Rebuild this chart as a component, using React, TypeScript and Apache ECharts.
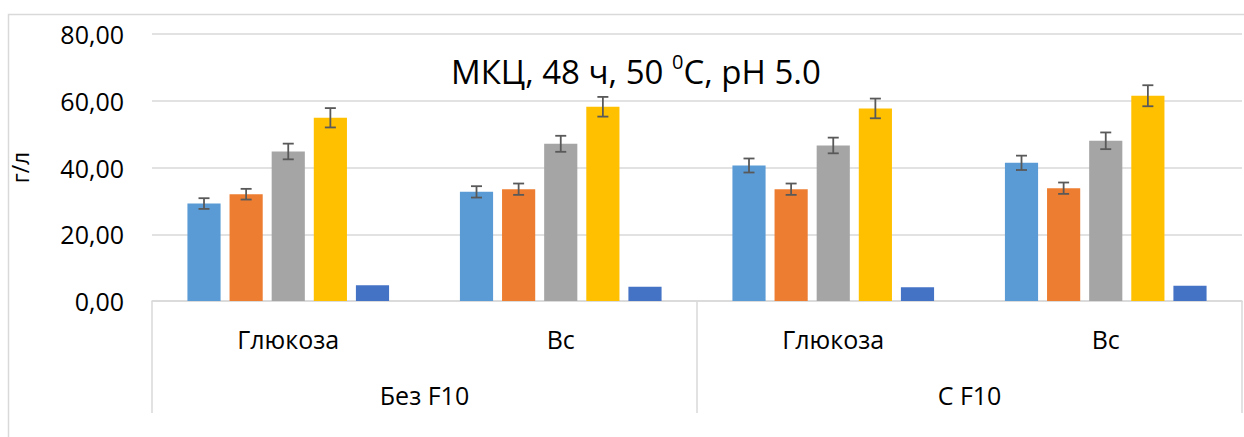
import React, { useEffect, useRef } from "react";
import * as echarts from "echarts";

// Inner category level (substrate) and outer level (enzyme additive)
const categories = ["Глюкоза", "Вс", "Глюкоза", "Вс"];
const groups = ["Без F10", "С F10"];

const seriesNames = ["Ряд1", "Ряд2", "Ряд3", "Ряд4", "Ряд5"];
const colors = ["#5B9BD5", "#ED7D31", "#A5A5A5", "#FFC000", "#4472C4"];

// Concentrations, g/L
const s1 = [29.2, 32.7, 40.6, 41.4];
const s2 = [32.0, 33.5, 33.5, 33.8];
const s3 = [44.8, 47.1, 46.6, 48.0];
const s4 = [54.9, 58.2, 57.7, 61.5];
const s5 = [4.7, 4.3, 4.1, 4.6];

// Standard deviations (the fifth series has none)
const e1 = [1.6, 1.7, 2.1, 2.15];
const e2 = [1.6, 1.7, 1.7, 1.7];
const e3 = [2.35, 2.4, 2.35, 2.5];
const e4 = [2.9, 2.95, 2.95, 3.15];

const yMin = 0;
const yMax = 80;
const yStep = 20;

const values = [s1, s2, s3, s4, s5];
const errors = [e1, e2, e3, e4];

const CAT_GAP = 0.26;
const BAR_GAP = 0.27;
const FONT = "'Open Sans', 'Noto Sans', sans-serif";
const GRID_COLOR = "#D9D9D9";

export default function App() {
  const ref = useRef<HTMLDivElement>(null);

  useEffect(() => {
    if (!ref.current) return;
    const chart = echarts.init(ref.current, undefined, { renderer: "svg" });
    const n = values.length;

    const barSeries = values.map((vals, k) => ({
      name: seriesNames[k],
      type: "bar",
      xAxisIndex: 0,
      yAxisIndex: 0,
      data: vals,
      barCategoryGap: `${CAT_GAP * 100}%`,
      barGap: `${BAR_GAP * 100}%`,
      itemStyle: { color: colors[k] },
      z: 2,
    }));

    const errSeries = errors.map((errs, k) => ({
      name: seriesNames[k] + " err",
      type: "custom",
      xAxisIndex: 0,
      yAxisIndex: 0,
      z: 5,
      silent: true,
      data: errs.map((e, i) => [i, values[k][i], e]),
      encode: { x: 0, y: 1 },
      renderItem: (params: any, api: any) => {
        const cat = api.value(0);
        const v = api.value(1);
        const e = api.value(2);
        const center = api.coord([cat, v]);
        const catW = api.size([1, 0])[0];
        const barW = (catW * (1 - CAT_GAP)) / (n + (n - 1) * BAR_GAP);
        const step = barW * (1 + BAR_GAP);
        const x = center[0] + (k - (n - 1) / 2) * step;
        const yTop = api.coord([cat, v + e])[1];
        const yBot = api.coord([cat, v - e])[1];
        const cap = 5.5;
        const style = { stroke: "#595959", lineWidth: 1.8 };
        return {
          type: "group",
          children: [
            { type: "line", shape: { x1: x, y1: yTop, x2: x, y2: yBot }, style },
            { type: "line", shape: { x1: x - cap, y1: yTop, x2: x + cap, y2: yTop }, style },
            { type: "line", shape: { x1: x - cap, y1: yBot, x2: x + cap, y2: yBot }, style },
          ],
        };
      },
    }));

    chart.setOption({
      animation: false,
      backgroundColor: "#ffffff",
      textStyle: { fontFamily: FONT },
      title: {
        left: 446,
        top: 46,
        text: "{a|МКЦ, 48 ч, 50 }{sup|0}{a|С, pH 5.0}",
        textStyle: {
          fontWeight: "normal",
          rich: {
            a: {
              fontFamily: FONT,
              fontSize: 33,
              fontWeight: "normal",
              color: "#000",
              lineHeight: 40,
            },
            sup: {
              fontFamily: FONT,
              fontSize: 20,
              fontWeight: "normal",
              color: "#000",
              lineHeight: 40,
              verticalAlign: "top",
            },
          },
        },
      },
      graphic: [
        {
          type: "rect",
          shape: { x: 8.5, y: 14.5, width: 1400, height: 600 },
          style: { fill: "none", stroke: GRID_COLOR, lineWidth: 1.5 },
          silent: true,
          z: -1,
        },
      ],
      grid: { left: 150, right: 2, top: 34, bottom: 136, containLabel: false },
      xAxis: [
        {
          type: "category",
          data: categories,
          position: "bottom",
          axisLine: { show: true, lineStyle: { color: GRID_COLOR, width: 1.5 } },
          axisTick: { show: false },
          axisLabel: {
            interval: 0,
            margin: 25,
            color: "#000",
            fontSize: 25,
            fontFamily: FONT,
          },
        },
        {
          type: "category",
          data: groups,
          position: "bottom",
          axisLine: { show: false },
          axisTick: {
            show: true,
            interval: 0,
            length: 112,
            lineStyle: { color: GRID_COLOR, width: 1.5 },
          },
          axisLabel: {
            interval: 0,
            margin: 81,
            color: "#000",
            fontSize: 25,
            fontFamily: FONT,
          },
        },
      ],
      yAxis: {
        type: "value",
        min: yMin,
        max: yMax,
        interval: yStep,
        name: "г/л",
        nameLocation: "middle",
        nameGap: 121,
        nameRotate: 90,
        nameTextStyle: { color: "#000", fontSize: 23, fontFamily: FONT },
        axisLine: { show: false },
        axisTick: { show: false },
        splitLine: { lineStyle: { color: GRID_COLOR, width: 1.5 } },
        axisLabel: {
          margin: 28,
          color: "#000",
          fontSize: 25,
          fontFamily: FONT,
          formatter: (v: number) => v.toFixed(2).replace(".", ","),
        },
      },
      series: [...barSeries, ...errSeries],
    });

    return () => chart.dispose();
  }, []);

  return (
    <div
      ref={ref}
      style={{ position: "fixed", left: 0, top: 0, width: 1244, height: 437 }}
    />
  );
}
